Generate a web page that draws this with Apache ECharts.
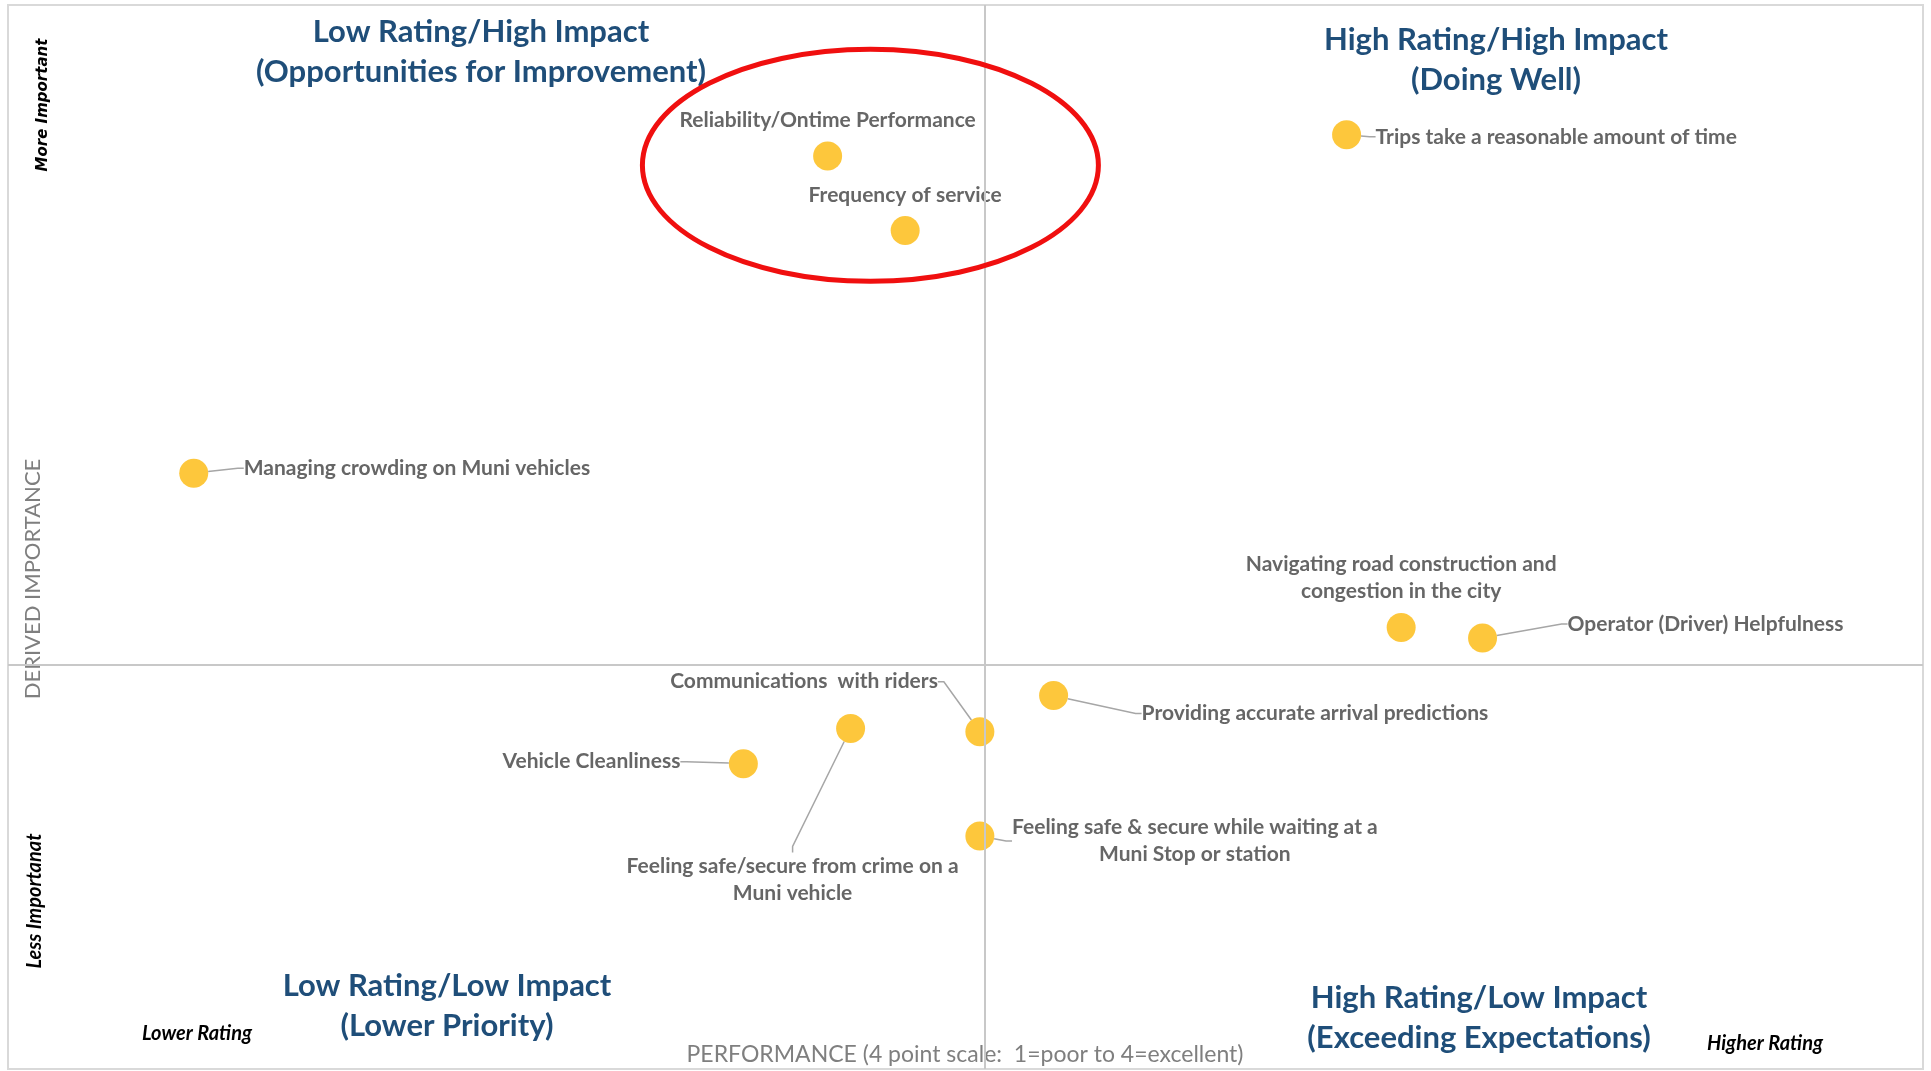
<!DOCTYPE html>
<html>
<head>
<meta charset="utf-8">
<title>Muni rider survey - importance vs performance</title>
<script src="https://cdn.jsdelivr.net/npm/echarts@6/dist/echarts.min.js"></script>
<style>
  html, body { margin: 0; padding: 0; background: #fff; }
  #quadrant { width: 1931px; height: 1071px; }
</style>
</head>
<body>
<div id="quadrant"></div>
<script>
// service attributes (two-line labels keep their line break)
var attributes = [
  'Reliability/Ontime Performance',
  'Frequency of service',
  'Trips take a reasonable amount of time',
  'Managing crowding on Muni vehicles',
  'Navigating road construction and\ncongestion in the city',
  'Operator (Driver) Helpfulness',
  'Providing accurate arrival predictions',
  'Communications  with riders',
  'Feeling safe/secure from crime on a\nMuni vehicle',
  'Vehicle Cleanliness',
  'Feeling safe & secure while waiting at a\nMuni Stop or station'
];
// performance rating (4 point scale)
var performance = [2.856, 2.937, 3.398, 2.194, 3.455, 3.540, 3.092, 3.015, 2.880, 2.768, 3.015];
// derived importance
var importance = [0.858, 0.788, 0.878, 0.560, 0.415, 0.405, 0.351, 0.317, 0.320, 0.287, 0.219];
// quadrant split lines
var performanceMid = 3.019;
var importanceMid = 0.378;
// the two attributes ringed in red
var ringed = [0, 1];

// where each label sits relative to its dot (px)
var labelPlace = [
  { dx: 0, dy: -36, align: 'center', line: false },
  { dx: 0, dy: -35, align: 'center', line: false },
  { dx: 29, dy: 2, align: 'left', line: true },
  { dx: 50, dy: -5, align: 'left', line: true },
  { dx: 0, dy: -50, align: 'center', line: false },
  { dx: 85, dy: -14, align: 'left', line: true },
  { dx: 88, dy: 18, align: 'left', line: true },
  { dx: -42, dy: -50, align: 'right', line: true },
  { dx: -58, dy: 151, align: 'center', line: true },
  { dx: -63, dy: -2, align: 'right', line: true },
  { dx: 215, dy: 5, align: 'center', line: true }
];

var points = attributes.map(function (name, i) {
  return {
    name: name,
    value: [performance[i], importance[i]],
    labelLine: { show: labelPlace[i].line }
  };
});

var dom = document.getElementById('quadrant');
var myChart = echarts.init(dom, null, { renderer: 'canvas' });

var option = {
  backgroundColor: '#ffffff',
  animation: false,
  grid: {
    left: 8,
    right: 8,
    top: 5,
    bottom: 2,
    show: true,
    borderColor: '#d9d9d9',
    borderWidth: 2
  },
  xAxis: { type: 'value', min: 2, max: 4, show: false },
  yAxis: { type: 'value', min: 0, max: 1, show: false },
  series: [
    {
      type: 'scatter',
      symbolSize: 29,
      itemStyle: { color: '#FCB90B' },
      emphasis: { disabled: true },
      data: points,
      label: {
        show: true,
        position: 'right',
        formatter: '{b}',
        color: '#404040',
        fontFamily: 'Lato',
        fontWeight: 'bold',
        fontSize: 21,
        lineHeight: 27,
        padding: 0
      },
      labelLayout: function (params) {
        var p = labelPlace[params.dataIndex];
        var r = params.rect;
        return {
          x: r.x + r.width / 2 + p.dx,
          y: r.y + r.height / 2 + p.dy,
          align: p.align,
          verticalAlign: 'middle'
        };
      },
      labelLine: {
        show: true,
        length2: 6,
        lineStyle: { color: '#a6a6a6', width: 1.5 }
      },
      markLine: {
        silent: true,
        symbol: 'none',
        label: { show: false },
        lineStyle: { color: '#c8c8c8', width: 2, type: 'solid' },
        data: [{ xAxis: performanceMid }, { yAxis: importanceMid }]
      },
      z: 3
    }
  ]
};

myChart.setOption(option);

function caption(text, x, y, font, color, rotate) {
  return {
    type: 'text',
    x: x,
    y: y,
    rotation: rotate ? Math.PI / 2 : 0,
    silent: true,
    style: {
      text: text,
      font: font,
      fill: color,
      align: 'center',
      verticalAlign: 'middle',
      lineHeight: 40
    }
  };
}

var titleFont = 'bold 31px Lato';
var titleColor = '#1F4E79';

// ring round the two ringed dots, centred a little above their midpoint
var a = myChart.convertToPixel({ gridIndex: 0 }, [performance[ringed[0]], importance[ringed[0]]]);
var b = myChart.convertToPixel({ gridIndex: 0 }, [performance[ringed[1]], importance[ringed[1]]]);

myChart.setOption({
  graphic: [
    caption('Low Rating/High Impact\n(Opportunities for Improvement)', 481, 52, titleFont, titleColor),
    caption('High Rating/High Impact\n(Doing Well)', 1496, 60, titleFont, titleColor),
    caption('Low Rating/Low Impact\n(Lower Priority)', 447, 1006, titleFont, titleColor),
    caption('High Rating/Low Impact\n(Exceeding Expectations)', 1479, 1018, titleFont, titleColor),
    caption('More Important', 43, 105, 'italic bold 15px "DejaVu Sans"', '#000000', true),
    caption('Less Importanat', 35, 901, 'italic bold 20px Lato', '#000000', true),
    caption('DERIVED IMPORTANCE', 33, 579, '22px Lato', '#7f7f7f', true),
    caption('Lower Rating', 197, 1034, 'italic bold 20px Lato', '#000000'),
    caption('Higher Rating', 1765, 1044, 'italic bold 20px Lato', '#000000'),
    caption('PERFORMANCE (4 point scale:  1=poor to 4=excellent)', 965, 1055, '23px Lato', '#7f7f7f'),
    {
      type: 'ellipse',
      silent: true,
      shape: {
        cx: (a[0] + b[0]) / 2 + 4,
        cy: (a[1] + b[1]) / 2 - 28,
        rx: 228,
        ry: 116
      },
      style: { fill: 'none', stroke: '#f00f0f', lineWidth: 5 },
      z: 10
    }
  ]
});

window.addEventListener('resize', myChart.resize);
</script>
</body>
</html>
